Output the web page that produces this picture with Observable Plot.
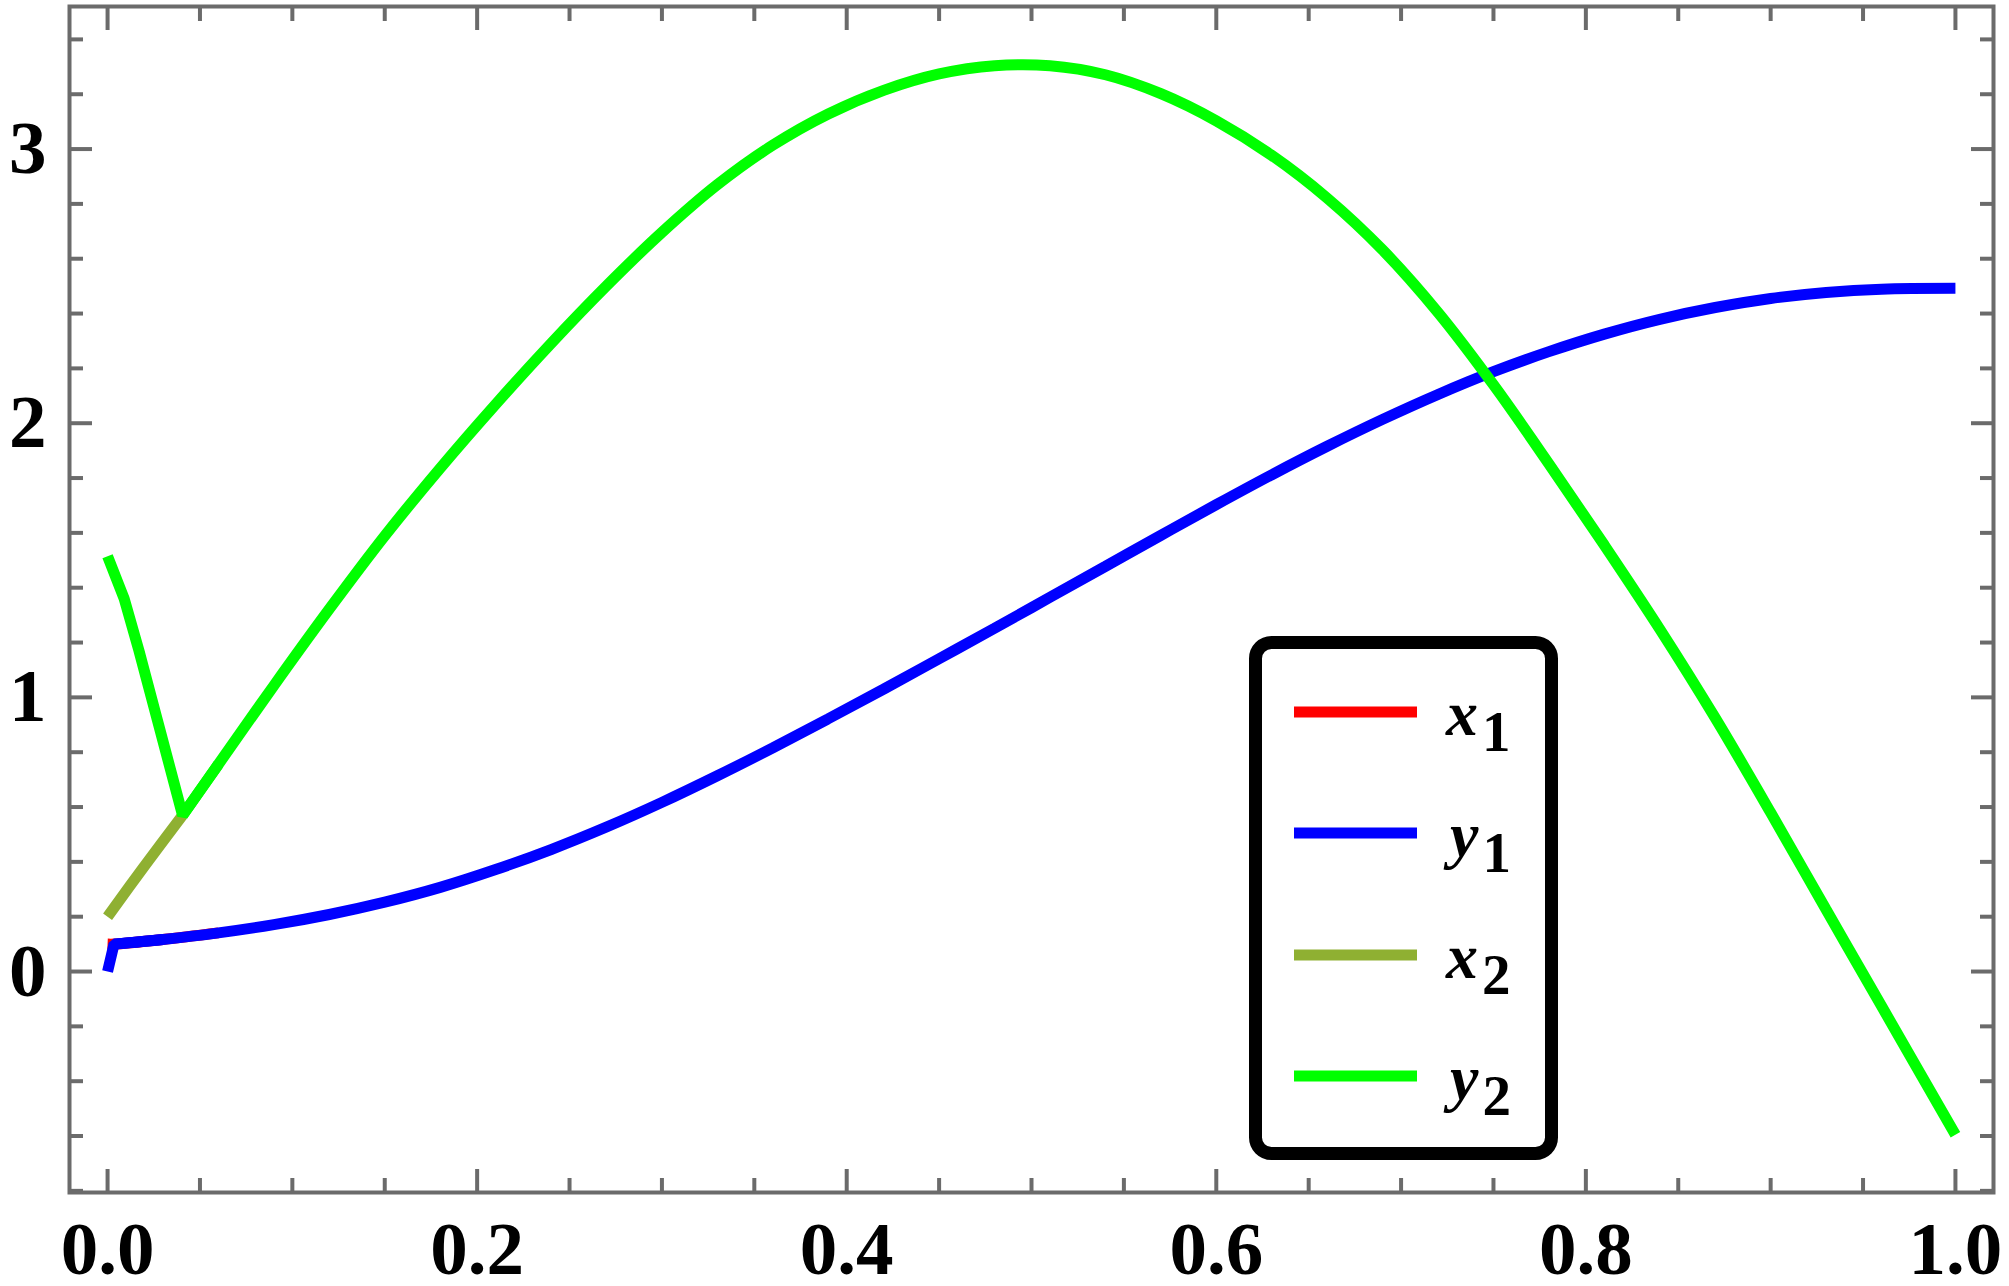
<!DOCTYPE html>
<html><head><meta charset="utf-8">
<script src="https://cdn.jsdelivr.net/npm/d3@7"></script>
<script src="https://cdn.jsdelivr.net/npm/@observablehq/plot@0.6"></script>
<style>html,body{margin:0;padding:0;background:#fff;} svg{display:block;}</style>
</head><body><div id="chart"></div>
<script>
// ---- data ----
const seriesNames  = ["x1", "y1", "x2", "y2"];
const seriesColors = ["#FF0000", "#0000FF", "#8FB032", "#00FF00"];
// index of a sharp corner in each series (-1: none)
const seriesKnees  = [-1, 1, -1, 4];

const x1X = [0, 0.0035, 0.03, 0.06];
const x1Y = [0.1, 0.1, 0.117, 0.141];

const y1X = [0, 0.0035, 0.03, 0.06, 0.09, 0.12, 0.15, 0.18, 0.21, 0.24, 0.27, 0.30, 0.33, 0.36, 0.39, 0.42, 0.45, 0.48, 0.51, 0.54, 0.57, 0.60, 0.63, 0.66, 0.69, 0.72, 0.75, 0.78, 0.81, 0.84, 0.87, 0.90, 0.93, 0.96, 1.0];
const y1Y = [0, 0.100, 0.117, 0.141, 0.171, 0.208, 0.253, 0.307, 0.372, 0.445, 0.527, 0.617, 0.714, 0.816, 0.922, 1.03, 1.141, 1.252, 1.365, 1.478, 1.591, 1.703, 1.812, 1.916, 2.014, 2.105, 2.188, 2.261, 2.325, 2.379, 2.422, 2.455, 2.477, 2.489, 2.492];

const x2X = [0, 0.02, 0.0406];
const x2Y = [0.2, 0.385, 0.57];

const y2X = [0, 0.009, 0.017, 0.027, 0.0406, 0.06, 0.09, 0.12, 0.15, 0.18, 0.21, 0.24, 0.27, 0.30, 0.33, 0.36, 0.39, 0.42, 0.45, 0.48, 0.51, 0.54, 0.57, 0.60, 0.63, 0.66, 0.69, 0.72, 0.75, 0.78, 0.81, 0.84, 0.87, 0.90, 0.93, 0.96, 1.0];
const y2Y = [1.515, 1.36, 1.17, 0.916, 0.57, 0.756, 1.043, 1.322, 1.589, 1.836, 2.069, 2.291, 2.501, 2.696, 2.87, 3.014, 3.128, 3.214, 3.274, 3.304, 3.304, 3.271, 3.202, 3.103, 2.977, 2.821, 2.632, 2.404, 2.14, 1.852, 1.555, 1.249, 0.925, 0.58, 0.226, -0.126, -0.595];

const xMajor = [0, 0.2, 0.4, 0.6, 0.8, 1.0];
const xMinor = [0.05, 0.1, 0.15, 0.25, 0.3, 0.35, 0.45, 0.5, 0.55, 0.65, 0.7, 0.75, 0.85, 0.9, 0.95];
const yMajor = [0, 1, 2, 3];
const yMinor = [-0.8, -0.6, -0.4, -0.2, 0.2, 0.4, 0.6, 0.8, 1.2, 1.4, 1.6, 1.8, 2.2, 2.4, 2.6, 2.8, 3.2, 3.4];

// ---- build tables ----
const allX = [x1X, y1X, x2X, y2X];
const allY = [x1Y, y1Y, x2Y, y2Y];
const series = seriesNames.map((name, i) => ({
  name, color: seriesColors[i], knee: seriesKnees[i],
  data: allX[i].map((x, j) => ({x, y: allY[i][j]}))
}));

function lineMarks(s) {
  const opts = {x: "x", y: "y", stroke: s.color, strokeWidth: 11, strokeLinecap: "butt", strokeLinejoin: "miter"};
  if (s.knee > 0) {
    return [
      Plot.line(s.data.slice(0, s.knee + 2), opts),                       // sharp corner part
      Plot.line(s.data.slice(s.knee), {...opts, curve: "catmull-rom"})    // smooth remainder
    ];
  }
  return [Plot.line(s.data, {...opts, curve: "catmull-rom"})];
}

const serif = "'Liberation Serif', 'Times New Roman', Times, serif";
const frameGray = "#6b6b6b";
const tickCommon = {stroke: frameGray, strokeWidth: 4, fill: "none", label: null};
const labelFont = {fontSize: 75, fontWeight: "bold", fontFamily: serif, fill: "black"};

const chart = Plot.plot({
  width: 2009, height: 1286,
  marginLeft: 69, marginRight: 16, marginTop: 6, marginBottom: 94,
  x: {domain: [-0.0206, 1.0206]},
  y: {domain: [-0.806, 3.52]},
  style: {background: "white", fontFamily: serif, overflow: "visible"},
  marks: [
    // ticks (inward), mirrored on all four sides
    Plot.axisX(xMajor, {anchor: "bottom", tickSize: -23, ...tickCommon}),
    Plot.axisX(xMinor, {anchor: "bottom", tickSize: -14, ...tickCommon}),
    Plot.axisX(xMajor, {anchor: "top", tickSize: -23, ...tickCommon}),
    Plot.axisX(xMinor, {anchor: "top", tickSize: -14, ...tickCommon}),
    Plot.axisY(yMajor, {anchor: "left", tickSize: -23, ...tickCommon}),
    Plot.axisY(yMinor, {anchor: "left", tickSize: -14, ...tickCommon}),
    Plot.axisY(yMajor, {anchor: "right", tickSize: -23, ...tickCommon}),
    Plot.axisY(yMinor, {anchor: "right", tickSize: -14, ...tickCommon}),
    // tick labels
    Plot.axisX(xMajor, {anchor: "bottom", tickSize: 0, tickPadding: 28, label: null, tickFormat: d => d.toFixed(1), ...labelFont}),
    Plot.axisY(yMajor, {anchor: "left", tickSize: 0, tickPadding: 23, label: null, tickFormat: d => String(d), ...labelFont}),
    // curves
    ...series.flatMap(lineMarks),
    Plot.frame({stroke: frameGray, strokeWidth: 4})
  ]
});

document.getElementById("chart").appendChild(chart);

// ---- legend (inside the plot, framed box) ----
const svg = d3.select(chart);
const lg = svg.append("g").attr("class", "legend");
lg.append("rect")
  .attr("x", 1255.5).attr("y", 642.5).attr("width", 296).attr("height", 511)
  .attr("rx", 16).attr("ry", 16)
  .attr("fill", "white").attr("stroke", "black").attr("stroke-width", 13);
const rowY = [712, 833, 955, 1076];
series.forEach((s, i) => {
  lg.append("line")
    .attr("x1", 1294).attr("x2", 1417).attr("y1", rowY[i]).attr("y2", rowY[i])
    .attr("stroke", s.color).attr("stroke-width", 11);
  const t = lg.append("text")
    .attr("x", s.name[0] === "x" ? 1446 : 1450).attr("y", rowY[i] + 23)
    .attr("text-anchor", "start")
    .attr("font-family", serif).attr("fill", "black");
  t.append("tspan").attr("font-size", 64).attr("font-style", "italic").attr("font-weight", "bold").text(s.name[0]);
  t.append("tspan").attr("font-size", 57).attr("font-weight", "bold").attr("dx", 4).attr("dy", 16).text(s.name.slice(1));
});
</script></body></html>
